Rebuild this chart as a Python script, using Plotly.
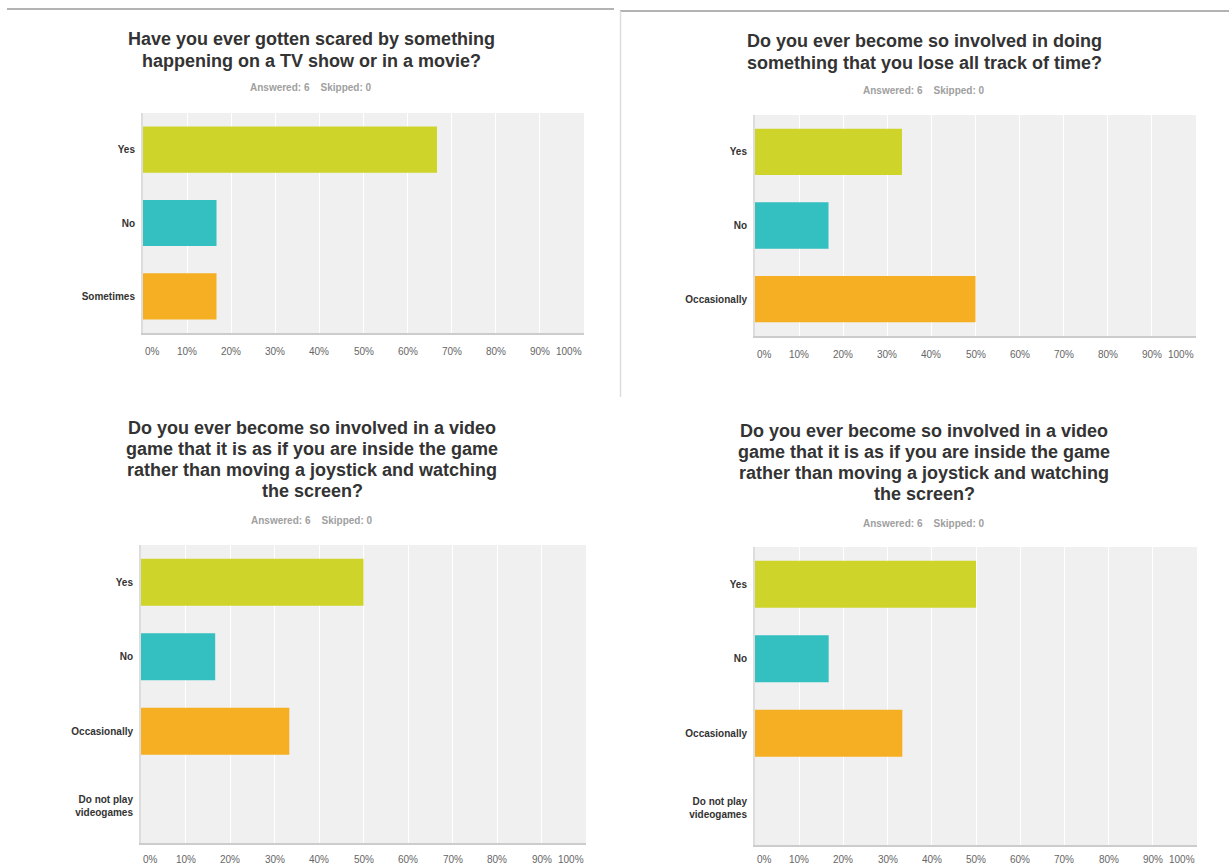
import plotly.graph_objects as go

W, H = 1229, 865

titles = [
    ["Have you ever gotten scared by something", "happening on a TV show or in a movie?"],
    ["Do you ever become so involved in doing", "something that you lose all track of time?"],
    ["Do you ever become so involved in a video", "game that it is as if you are inside the game",
     "rather than moving a joystick and watching", "the screen?"],
    ["Do you ever become so involved in a video", "game that it is as if you are inside the game",
     "rather than moving a joystick and watching", "the screen?"],
]
subtitle = "Answered: 6&nbsp;&nbsp;&nbsp;&nbsp;Skipped: 0"

categories1 = ["Yes", "No", "Sometimes"]
values1 = [66.67, 16.67, 16.67]
categories2 = ["Yes", "No", "Occasionally"]
values2 = [33.33, 16.67, 50.0]
categories3 = ["Yes", "No", "Occasionally", "Do not play<br>videogames"]
values3 = [50.0, 16.67, 33.33, 0.0]
categories4 = ["Yes", "No", "Occasionally", "Do not play<br>videogames"]
values4 = [50.0, 16.67, 33.33, 0.0]

tick_vals = [0, 10, 20, 30, 40, 50, 60, 70, 80, 90, 100]
tick_text = ["0%", "10%", "20%", "30%", "40%", "50%", "60%", "70%", "80%", "90%", "100%"]

bar_colors = ["#cfd42a", "#34bfc0", "#f6af22", "#cfd42a"]

# panel geometry in pixels: plot left, right, top, bottom, panel center x, first title line y, subtitle y
panels = [
    dict(cats=categories1, vals=values1, l=143, r=584, t=113, b=333, cx=311, ty=39, sy=88, ys=-18),
    dict(cats=categories2, vals=values2, l=755, r=1196, t=115, b=336, cx=924, ty=41, sy=90, ys=-18),
    dict(cats=categories3, vals=values3, l=141, r=586, t=545, b=843, cx=312, ty=428, sy=520, ys=-16),
    dict(cats=categories4, vals=values4, l=755, r=1197, t=547, b=845, cx=924, ty=431, sy=523, ys=-14),
]
line_gap = [22, 22, 21, 21]

fig = go.Figure()
annotations = []
layout_axes = {}

for i, p in enumerate(panels):
    k = "" if i == 0 else str(i + 1)
    xa, ya = "x" + k, "y" + k
    n = len(p["cats"])
    fig.add_trace(go.Bar(
        x=p["vals"], y=p["cats"], orientation="h",
        marker=dict(color=bar_colors[:n], line=dict(width=0)),
        width=0.63, xaxis=xa, yaxis=ya, showlegend=False, hoverinfo="x+y",
    ))
    layout_axes["xaxis" + k] = dict(
        domain=[p["l"] / W, p["r"] / W], anchor=ya, range=[0, 100],
        tickvals=tick_vals, showticklabels=False, showgrid=True,
        gridcolor="#ffffff", gridwidth=1, zeroline=False,
        showline=True, linecolor="#cccccc", linewidth=2, ticks="",
        fixedrange=True,
    )
    layout_axes["yaxis" + k] = dict(
        domain=[1 - p["b"] / H, 1 - p["t"] / H], anchor=xa,
        categoryorder="array", categoryarray=p["cats"], autorange="reversed",
        showgrid=False, zeroline=False, showline=True, linecolor="#dddddd",
        linewidth=2, ticks="", ticklabelstandoff=4,
        tickfont=dict(family="Liberation Sans, Arial", size=10, color="#333333", weight="bold"),
        fixedrange=True,
    )
    for tv, tt in zip(tick_vals, tick_text):
        anchor = "center"
        if tv == 0:
            anchor = "left"
        elif tv == 100:
            anchor = "right"
        annotations.append(dict(
            x=tv, y=0, xref=xa, yref=ya + " domain", text=tt, showarrow=False,
            xanchor=anchor, yanchor="middle", yshift=p["ys"],
            font=dict(family="Liberation Sans, Arial", size=10, color="#666666"),
        ))
    for j, line in enumerate(titles[i]):
        annotations.append(dict(
            x=p["cx"] / W, y=1 - (p["ty"] + j * line_gap[i]) / H, xref="paper", yref="paper",
            text="<b>" + line + "</b>", showarrow=False, xanchor="center", yanchor="middle",
            font=dict(family="Liberation Sans, Arial", size=18, color="#333333"),
        ))
    annotations.append(dict(
        x=p["cx"] / W, y=1 - p["sy"] / H, xref="paper", yref="paper",
        text="<b>" + subtitle + "</b>", showarrow=False, xanchor="center", yanchor="middle",
        font=dict(family="Liberation Sans, Arial", size=10, color="#a0a0a0"),
    ))

shapes = [
    dict(type="line", xref="paper", yref="paper", x0=7 / W, x1=614 / W, y0=1 - 9 / H, y1=1 - 9 / H,
         line=dict(color="#9a9a9a", width=1.5)),
    dict(type="line", xref="paper", yref="paper", x0=620 / W, x1=1, y0=1 - 11 / H, y1=1 - 11 / H,
         line=dict(color="#9a9a9a", width=1.5)),
    dict(type="line", xref="paper", yref="paper", x0=620.5 / W, x1=620.5 / W, y0=1 - 11 / H, y1=1 - 397 / H,
         line=dict(color="#dddddd", width=1.5)),
]

fig.update_layout(
    width=W, height=H, margin=dict(l=0, r=0, t=0, b=0),
    paper_bgcolor="#ffffff", plot_bgcolor="#f0f0f0",
    annotations=annotations, shapes=shapes, bargap=0.37,
    **layout_axes,
)

fig.write_html("out.html", config={"displayModeBar": False})
